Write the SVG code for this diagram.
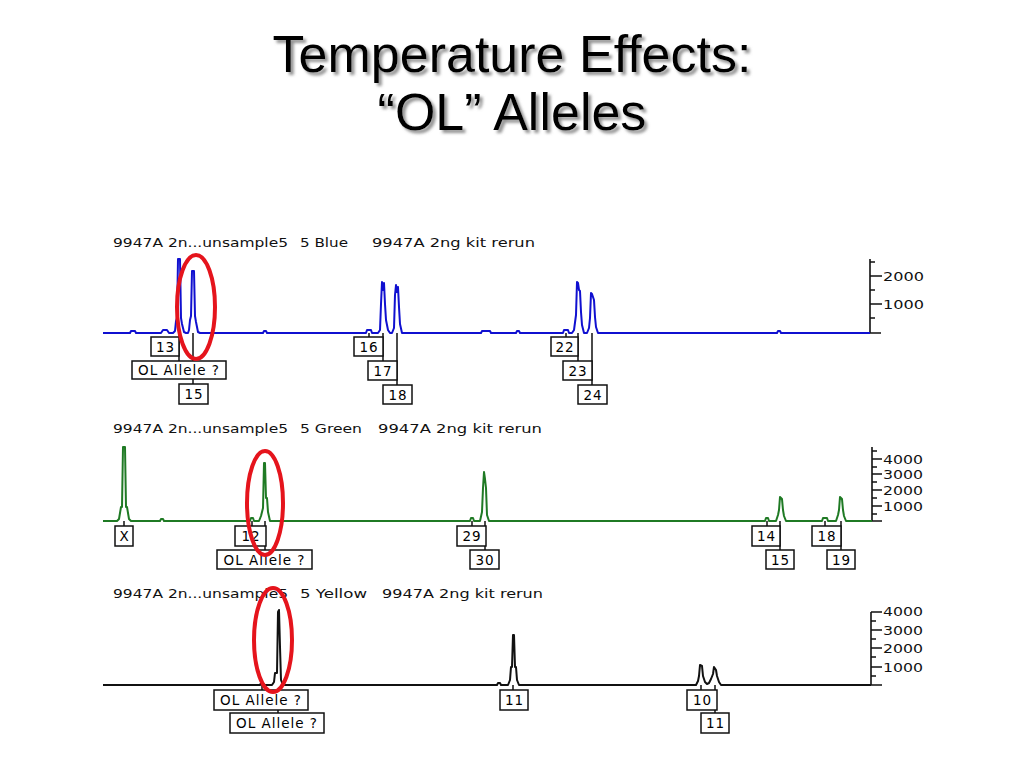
<svg xmlns="http://www.w3.org/2000/svg" width="1024" height="768" viewBox="0 0 1024 768">
<defs>
<filter id="shadow" x="-10%" y="-20%" width="130%" height="150%">
<feDropShadow dx="3" dy="3" stdDeviation="1.5" flood-color="#777" flood-opacity="0.8"/>
</filter>
</defs>
<style>
.title{font-family:"Liberation Sans",Arial,sans-serif;font-size:52px;fill:#000;text-anchor:middle}
.hdr{font-family:"DejaVu Sans",Verdana,sans-serif;font-size:13px;fill:#111}
.ax{font-family:"DejaVu Sans",Verdana,sans-serif;font-size:13px;fill:#111}
.axis{stroke:#111;stroke-width:1.6;fill:none}
.box rect{fill:#fff;stroke:#111;stroke-width:1.5}
.box text{font-family:"DejaVu Sans",Verdana,sans-serif;font-size:13.5px;letter-spacing:1px;fill:#000;text-anchor:middle}
.lead{stroke:#111;stroke-width:1.5}
.tb{fill:none;stroke:#1010d0;stroke-width:2;stroke-linejoin:round}
.tg{fill:none;stroke:#1f7a24;stroke-width:2;stroke-linejoin:round}
.ty{fill:none;stroke:#111;stroke-width:2;stroke-linejoin:round}
.oval{fill:none;stroke:#e5141c;stroke-width:4}
</style>
<rect width="1024" height="768" fill="#fff"/>
<g id="title" filter="url(#shadow)">
<text class="title" x="512" y="72">Temperature Effects:</text>
<text class="title" x="512" y="130">“OL” Alleles</text>
</g>

<g id="headers">
<text class="hdr" x="113" y="247" textLength="175" lengthAdjust="spacingAndGlyphs">9947A 2n...unsample5</text>
<text class="hdr" x="300" y="247" textLength="48" lengthAdjust="spacingAndGlyphs">5 Blue</text>
<text class="hdr" x="372" y="247" textLength="163" lengthAdjust="spacingAndGlyphs">9947A 2ng kit rerun</text>
<text class="hdr" x="113" y="433" textLength="175" lengthAdjust="spacingAndGlyphs">9947A 2n...unsample5</text>
<text class="hdr" x="300" y="433" textLength="62" lengthAdjust="spacingAndGlyphs">5 Green</text>
<text class="hdr" x="378" y="433" textLength="164" lengthAdjust="spacingAndGlyphs">9947A 2ng kit rerun</text>
<text class="hdr" x="113" y="598" textLength="175" lengthAdjust="spacingAndGlyphs">9947A 2n...unsample5</text>
<text class="hdr" x="300" y="598" textLength="67" lengthAdjust="spacingAndGlyphs">5 Yellow</text>
<text class="hdr" x="382" y="598" textLength="161" lengthAdjust="spacingAndGlyphs">9947A 2ng kit rerun</text>
</g>

<g id="axes">
<path class="axis" d="M870,259V333H881M870,262H875M870,276H882M870,290H875M870,304H882M870,318H875"/>
<text class="ax" x="883" y="281" textLength="41" lengthAdjust="spacingAndGlyphs">2000</text>
<text class="ax" x="883" y="309" textLength="41" lengthAdjust="spacingAndGlyphs">1000</text>
<path class="axis" d="M872,447V521H882M872,451H877M872,459H882M872,467H877M872,474H882M872,482H877M872,490H882M872,498H877M872,506H882M872,514H877"/>
<text class="ax" x="883" y="464" textLength="40" lengthAdjust="spacingAndGlyphs">4000</text>
<text class="ax" x="883" y="479" textLength="40" lengthAdjust="spacingAndGlyphs">3000</text>
<text class="ax" x="883" y="495" textLength="40" lengthAdjust="spacingAndGlyphs">2000</text>
<text class="ax" x="883" y="511" textLength="40" lengthAdjust="spacingAndGlyphs">1000</text>
<path class="axis" d="M871,612V685H882M871,612H882M871,621H876M871,630H882M871,639H876M871,648H882M871,657H876M871,667H882M871,676H876"/>
<text class="ax" x="883" y="616" textLength="40" lengthAdjust="spacingAndGlyphs">4000</text>
<text class="ax" x="883" y="635" textLength="40" lengthAdjust="spacingAndGlyphs">3000</text>
<text class="ax" x="883" y="653" textLength="40" lengthAdjust="spacingAndGlyphs">2000</text>
<text class="ax" x="883" y="672" textLength="40" lengthAdjust="spacingAndGlyphs">1000</text>
</g>

<g id="traces">
<path id="trace-blue" class="tb" d="M103,333 L130,333 L131,331 L135,331 L136,333 L161,333 L163,330 L167,330 L169,333 L173,333 L175,331 L176,321 L177,318 L178,259 L180,259 L181,318 L182,324 L184,332 L186,333 L188,333 L189,330 L190,320 L191,316 L192,271 L194,271 L195,316 L196,322 L198,332 L200,333 L263,333 L264,331 L266,331 L267,333 L366,333 L367,330 L371,330 L372,333 L378,333 L380,330 L381,304 L382,282 L383,290 L384,283 L385,304 L386,320 L388,330 L390,333 L392,333 L394,328 L395,295 L396,285 L397,292 L398,287 L399,307 L400,324 L402,333 L481,333 L482,331 L490,331 L491,333 L516,333 L517,331 L519,331 L520,333 L563,333 L564,330 L568,330 L569,333 L572,333 L574,330 L576,315 L577,282 L578,283 L579,290 L580,291 L581,312 L582,325 L584,333 L587,333 L589,328 L590,318 L591,293 L592,294 L593,297 L594,300 L595,317 L596,327 L598,333 L777,333 L778,331 L780,331 L781,333 L870,333"/>
<path id="trace-green" class="tg" d="M103,521 L117,521 L119,519 L121,507 L122,507 L123,447 L125,447 L126,507 L127,507 L129,519 L131,521 L160,521 L161,519 L163,519 L164,521 L250,521 L251,518 L253,518 L254,521 L259,521 L261,516 L263,508 L264,463 L265,463 L266,498 L267,498 L268,512 L270,521 L470,521 L471,518 L473,518 L474,521 L480,521 L482,512 L483,488 L484,472 L485,479 L486,488 L487,515 L489,521 L765,521 L766,518 L768,518 L769,521 L776,521 L778,515 L779,510 L780,497 L782,499 L783,510 L784,516 L786,521 L822,521 L823,518 L827,518 L828,521 L836,521 L838,515 L839,510 L840,497 L842,499 L843,510 L844,516 L846,521 L872,521"/>
<path id="trace-yellow" class="ty" d="M103,685 L260,685 L261,683 L263,683 L264,685 L272,685 L274,682 L275,673 L277,673 L278,612 L279,610 L280,647 L281,680 L283,685 L497,685 L498,683 L500,683 L501,685 L508,685 L510,680 L511,667 L512,667 L513,635 L514,635 L515,667 L516,667 L517,680 L519,685 L696,685 L698,681 L699,676 L700,665 L702,666 L703,676 L705,682 L707,684 L709,683 L711,679 L713,674 L714,667 L716,670 L717,676 L719,682 L721,685 L871,685"/>
</g>

<g id="connectors">
<path class="lead" d="M179,333V361M193,333V361M193,379V384M369,333V337M383,333V361M397,333V385M566,333V337M578,333V361M592,333V385"/>
<path class="lead" d="M124,521V526M252,521V526M265,521V550M472,521V526M485,521V550M767,521V526M780,521V550M825,521V526M841,521V550"/>
<path class="lead" d="M262,685V690M278,710V713M513,685V690M701,685V690M715,685V690M715,710V713"/>
</g>

<g id="lbl-b13" class="box"><rect x="151" y="337" width="28" height="19"/><text x="165.5" y="351.5">13</text></g>
<g id="lbl-b-ol" class="box"><rect x="132" y="361" width="94" height="18"/><text x="179" y="375" textLength="82" lengthAdjust="spacingAndGlyphs">OL Allele ?</text></g>
<g id="lbl-b15" class="box"><rect x="179" y="384" width="29" height="20"/><text x="194" y="399">15</text></g>
<g id="lbl-b16" class="box"><rect x="354" y="337" width="29" height="19"/><text x="369" y="351.5">16</text></g>
<g id="lbl-b17" class="box"><rect x="368" y="361" width="29" height="19"/><text x="383" y="375.5">17</text></g>
<g id="lbl-b18" class="box"><rect x="383" y="385" width="29" height="19"/><text x="398" y="399.5">18</text></g>
<g id="lbl-b22" class="box"><rect x="551" y="337" width="27" height="19"/><text x="565" y="351.5">22</text></g>
<g id="lbl-b23" class="box"><rect x="563" y="361" width="29" height="19"/><text x="578" y="375.5">23</text></g>
<g id="lbl-b24" class="box"><rect x="578" y="385" width="29" height="19"/><text x="593" y="399.5">24</text></g>

<g id="lbl-gX" class="box"><rect x="115" y="526" width="18" height="20"/><text x="124.5" y="541">X</text></g>
<g id="lbl-g12" class="box"><rect x="235" y="526" width="31" height="20"/><text x="251" y="541">12</text></g>
<g id="lbl-g-ol" class="box"><rect x="217" y="550" width="95" height="19"/><text x="264.5" y="564.5" textLength="82" lengthAdjust="spacingAndGlyphs">OL Allele ?</text></g>
<g id="lbl-g29" class="box"><rect x="457" y="526" width="29" height="20"/><text x="472" y="541">29</text></g>
<g id="lbl-g30" class="box"><rect x="470" y="550" width="29" height="19"/><text x="485" y="564.5">30</text></g>
<g id="lbl-g14" class="box"><rect x="752" y="526" width="28" height="20"/><text x="766.5" y="541">14</text></g>
<g id="lbl-g15" class="box"><rect x="766" y="550" width="28" height="19"/><text x="780.5" y="564.5">15</text></g>
<g id="lbl-g18" class="box"><rect x="812" y="526" width="29" height="20"/><text x="827" y="541">18</text></g>
<g id="lbl-g19" class="box"><rect x="827" y="550" width="28" height="19"/><text x="841.5" y="564.5">19</text></g>

<g id="lbl-y-ol1" class="box"><rect x="214" y="690" width="94" height="20"/><text x="261" y="705" textLength="82" lengthAdjust="spacingAndGlyphs">OL Allele ?</text></g>
<g id="lbl-y-ol2" class="box"><rect x="230" y="713" width="94" height="20"/><text x="277" y="728" textLength="82" lengthAdjust="spacingAndGlyphs">OL Allele ?</text></g>
<g id="lbl-y11" class="box"><rect x="500" y="690" width="28" height="20"/><text x="514.5" y="705">11</text></g>
<g id="lbl-y10" class="box"><rect x="687" y="690" width="30" height="20"/><text x="702.5" y="705">10</text></g>
<g id="lbl-y11b" class="box"><rect x="701" y="713" width="28" height="20"/><text x="715.5" y="728">11</text></g>

<g id="highlights">
<ellipse class="oval" cx="196" cy="307" rx="19" ry="52"/>
<ellipse class="oval" cx="265" cy="503" rx="18" ry="52"/>
<ellipse class="oval" cx="273" cy="640" rx="19" ry="52"/>
</g>
</svg>
